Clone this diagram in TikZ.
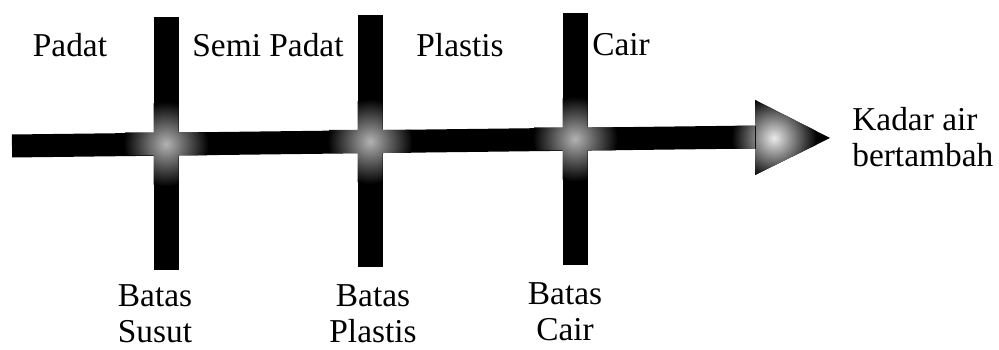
\documentclass[tikz,border=0pt]{standalone}
\usepackage{fontspec}
\setmainfont{Liberation Serif}
\usetikzlibrary{positioning}

\begin{document}
\begin{tikzpicture}[
    x=0.02cm, y=-0.02cm,
    txt/.style={font=\fontsize{19}{20.5}\selectfont, align=center, inner sep=0pt, anchor=north},
    bar/.style={line width=0.5cm, black},
    shaft/.style={line width=0.46cm, black},
    glow/.style={inner color=black!30, outer color=black},
    tipglow/.style={inner color=white!92!black, outer color=black}
]
\useasboundingbox (0,0) rectangle (999,350);

% bar ends
\coordinate (s0)  at (12,146);
\coordinate (s1)  at (758,137);
\coordinate (b1t) at (166,17);  \coordinate (b1b) at (166,270);
\coordinate (b2t) at (370,15);  \coordinate (b2b) at (370,267);
\coordinate (b3t) at (575,13);  \coordinate (b3b) at (575,265);

\draw[bar] (b1t) -- (b1b);
\draw[bar] (b2t) -- (b2b);
\draw[bar] (b3t) -- (b3b);
\draw[shaft] (s0) -- (s1);
\fill[black] (755,100) -- (830,138) -- (755,175) -- cycle;

% glow on the crossings
\begin{scope}
\clip (153.5,17) rectangle (178.5,270) (120,132.5) rectangle (212,155.5);
\shade[glow] (166,144) circle (0.85cm);
\end{scope}
\begin{scope}
\clip (357.5,15) rectangle (382.5,267) (324,130) rectangle (416,153);
\shade[glow] (370,141.5) circle (0.85cm);
\end{scope}
\begin{scope}
\clip (562.5,13) rectangle (587.5,265) (529,127.5) rectangle (621,150.5);
\shade[glow] (575,139) circle (0.85cm);
\end{scope}
\begin{scope}
\clip (755,100) -- (830,138) -- (755,175) -- cycle (725,126) rectangle (756,149);
\shade[tipglow] (774,138) circle (0.85cm);
\end{scope}

% phases
\node[txt] (padat)     at (70,33)  {Padat};
\node[txt] (semipadat) at (268,33) {Semi Padat};
\node[txt] (plastis)   at (460,33) {Plastis};
\node[txt] (cair)      at (621,33) {Cair};

% limits
\node[txt] (bsusut)   at (155,284) {Batas\\Susut};
\node[txt] (bplastis) at (373,284) {Batas\\Plastis};
\node[txt] (bcair)    at (565,282) {Batas\\Cair};

\node[txt, anchor=north west, align=left] (kadar) at (852,107) {Kadar air\\bertambah};
\end{tikzpicture}
\end{document}
